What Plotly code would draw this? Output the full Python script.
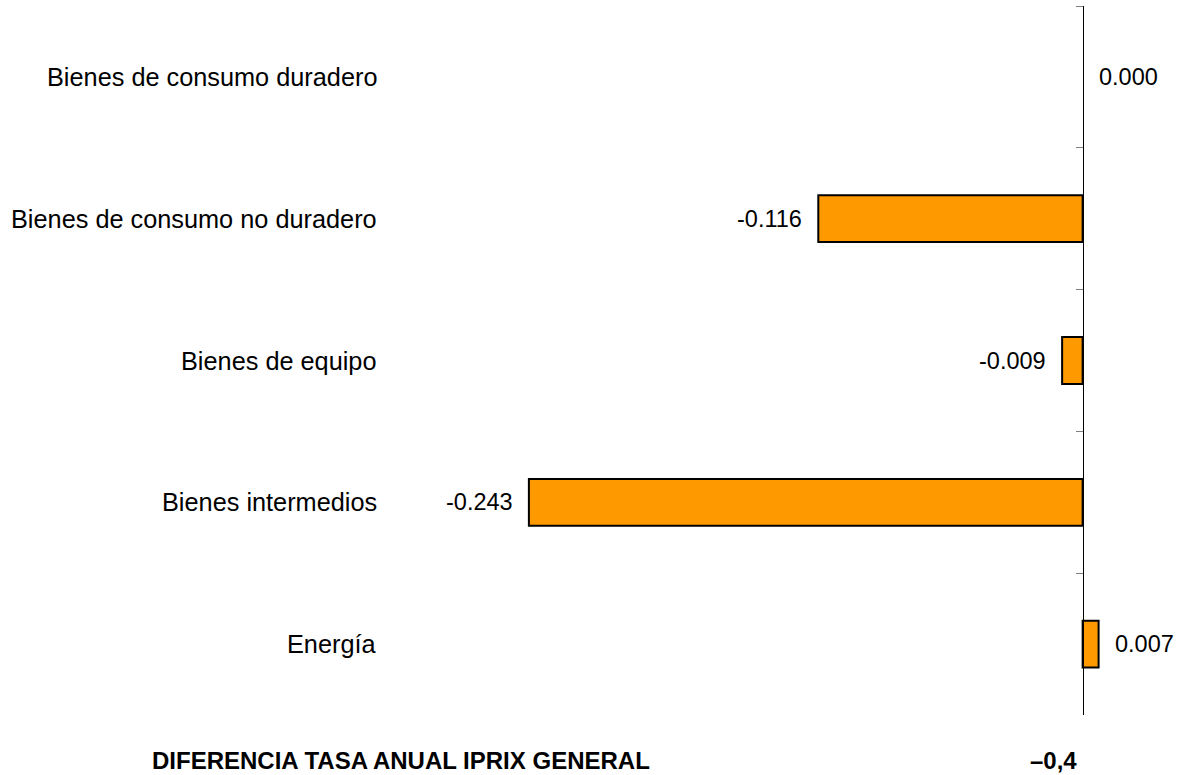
import plotly.graph_objects as go

categories = ["Bienes de consumo duradero", "Bienes de consumo no duradero",
              "Bienes de equipo", "Bienes intermedios", "Energía"]
values = [0.000, -0.116, -0.009, -0.243, 0.007]
total_label = "DIFERENCIA TASA ANUAL IPRIX GENERAL"
total_value = "–0,4"

FONT = "Liberation Sans, Arial, sans-serif"
xmin, xmax = -0.3, 0.03

fig = go.Figure()
fig.add_trace(go.Bar(
    y=categories, x=values, orientation="h",
    marker=dict(color="#FF9900",
                line=dict(color="#000000", width=[0 if v == 0 else 2 for v in values])),
    hoverinfo="skip",
))

annotations = []
for c, v in zip(categories, values):
    annotations.append(dict(
        x=0, xref="paper", y=c, yref="y", text=c, showarrow=False,
        xanchor="right", yanchor="middle", xshift=-20,
        font=dict(family=FONT, size=25.3, color="#000000")))
    neg = v < 0
    annotations.append(dict(
        x=v, xref="x", y=c, yref="y", text=f"{v:.3f}", showarrow=False,
        xanchor="right" if neg else "left", yanchor="middle",
        xshift=-14 if neg else 14,
        font=dict(family=FONT, size=23.5, color="#000000")))

annotations.append(dict(
    x=(150 - 399) / 752, xref="paper", y=0, yref="paper", text=f"<b>{total_label}</b>",
    showarrow=False, xanchor="left", yanchor="middle", yshift=-45,
    font=dict(family=FONT, size=24, color="#000000")))
annotations.append(dict(
    x=0, xref="x", y=0, yref="paper", text=f"<b>{total_value}</b>",
    showarrow=False, xanchor="right", yanchor="middle", yshift=-45, xshift=-4,
    font=dict(family=FONT, size=24, color="#000000")))

fig.update_layout(
    width=1185, height=775,
    margin=dict(l=399, r=34, t=6, b=60),
    plot_bgcolor="white", paper_bgcolor="white",
    showlegend=False, bargap=0.67,
    xaxis=dict(range=[xmin, xmax], visible=False, showgrid=False, zeroline=False),
    yaxis=dict(
        categoryorder="array", categoryarray=categories, autorange="reversed",
        anchor="free", position=(0 - xmin) / (xmax - xmin),
        showline=True, linecolor="#000000", linewidth=1,
        ticks="outside", tickson="boundaries", ticklen=7, tickcolor="#808080", tickwidth=1,
        showticklabels=False, showgrid=False, zeroline=False,
    ),
    annotations=annotations,
)

fig.write_html("out.html", config={"displayModeBar": False},
               post_script="document.body.style.margin='0px';document.body.style.overflow='hidden';")
